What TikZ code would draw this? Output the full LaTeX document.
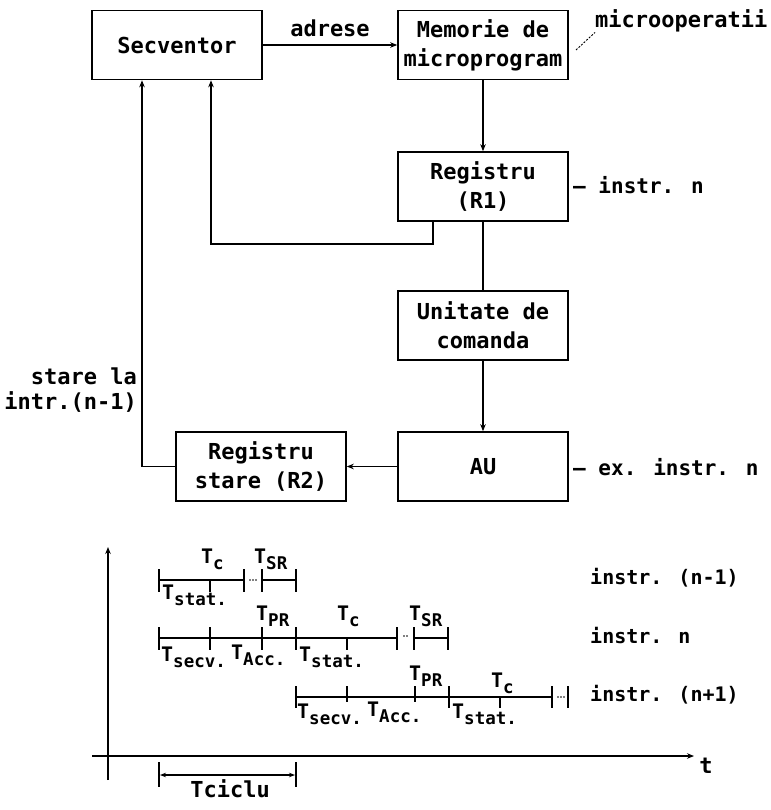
\documentclass[tikz,border=0pt]{standalone}
\usepackage{fontspec}
\newfontfamily\dmono{DejaVu Sans Mono}
\usetikzlibrary{arrows.meta}
% time label: T with a lowered index
\newcommand\Tlab[1]{{\fontsize{20}{20}\selectfont T\raisebox{-6pt}{\fontsize{17.5}{17.5}\selectfont #1}}}
\begin{document}
\begin{tikzpicture}[x=1pt,y=-1pt,
  every node/.style={font=\dmono\bfseries\fontsize{22}{29}\selectfont, inner sep=0pt},
  blk/.style={draw, line width=1.6pt, align=center, minimum width=170pt, minimum height=69pt},
  wire/.style={line width=1.1pt},
  arr/.style={wire, -{Stealth[length=7pt,width=5.5pt]}},
  lead/.style={line width=0.9pt, dash pattern=on 2pt off 1.5pt},
  side/.style={anchor=west, font=\dmono\bfseries\fontsize{21}{25}\selectfont},
  row/.style={anchor=west, font=\dmono\bfseries\fontsize{20}{24}\selectfont},
  tlab/.style={anchor=base west},
  seg/.style={line width=1.3pt},
  segb/.style={line width=2.5pt},
  tk/.style={line width=1.2pt},
  dt/.style={fill, inner sep=0pt, minimum size=1.8pt, circle}
]
\useasboundingbox (0,0) rectangle (770,810);

% ---------- block diagram ----------
\node[blk] (sec) at (177,45) {Secventor};
\node[blk] (mem) at (483,45) {Memorie de\\microprogram};
\node[blk] (r1)  at (483,186.5) {Registru\\(R1)};
\node[blk] (uc)  at (483,325.5) {Unitate de\\comanda};
\node[blk] (r2)  at (261,466.5) {Registru\\stare (R2)};
\node[blk] (au)  at (483,466.5) {AU};

\draw[arr] (sec.east) -- node[midway, yshift=17pt] (adr) {adrese} (mem.west);
\draw[arr] (mem.south) -- (r1.north);
\draw[wire] (r1.south) -- (uc.north);
\draw[arr] (uc.south) -- (au.north);
\draw[arr] (au.west) -- (r2.east);

% feedback of the current instruction
\coordinate (fbA) at (433,244);
\coordinate (fbB) at (211,244);
\draw[arr, line width=1.5pt] (r1.south -| fbA) |- (fbB) -- (sec.south -| fbB);
% state of the previous instruction
\coordinate (stB) at (142,467);
\draw[arr] (r2.west) -| (sec.south -| stB);

\node[anchor=east, align=right, font=\dmono\bfseries\fontsize{22}{25}\selectfont] (stl) at (137,390) {stare la\\intr.(n-1)};

\node[anchor=west] (mo) at (595,21) {microoperatii};
\coordinate (moA) at (576,50);
\draw[lead] (moA) -- (mo.south west);

\node[side] (i1) at (573,185) {— instr. n};
\node[side] (i2) at (573,467) {— ex. instr. n};

% ---------- timing chart ----------
\draw[wire, -{Stealth[length=7pt,width=5.5pt]}] (108,780) -- (108,547);
\draw[wire, -{Stealth[length=7pt,width=5.5pt]}] (92,756) -- (694,756);
\node (t) at (706,766) {t};

% instruction n-1
\draw[seg] (159,580) -- (244,580);
\draw[seg] (262,580) -- (296,580);
\foreach \x in {159,244,262,296} \draw[tk] (\x,569) -- (\x,592);
\draw[tk] (210,580) -- (210,592);
\foreach \x in {250,253,256} \node[dt] at (\x,580) {};
\node[tlab] at (201,563) {\Tlab{c}};
\node[tlab] at (254,563) {\Tlab{SR}};
\node[tlab] at (162,599) {\Tlab{stat.}};
\node[row] (rn1) at (590,578) {instr. (n-1)};

% instruction n
\draw[segb] (159,638) -- (397,638);
\draw[segb] (414,638) -- (448,638);
\foreach \x in {159,210,262,296,397,414,448} \draw[tk] (\x,627) -- (\x,650);
\draw[tk] (347,638) -- (347,650);
\foreach \x in {404,407} \node[dt] at (\x,636) {};
\node[tlab] at (256,620) {\Tlab{PR}};
\node[tlab] at (337,620) {\Tlab{c}};
\node[tlab] at (409,620) {\Tlab{SR}};
\node[tlab] at (161,661) {\Tlab{secv.}};
\node[tlab] at (231,659) {\Tlab{Acc.}};
\node[tlab] at (299,661) {\Tlab{stat.}};
\node[row] (rn) at (590,636) {instr. n};

% instruction n+1
\draw[seg] (296,697) -- (552,697);
\foreach \x in {296,449,552,568} \draw[tk] (\x,686) -- (\x,708);
\foreach \x in {347,415} \draw[tk] (\x,686) -- (\x,702);
\draw[tk] (500,697) -- (500,708);
\foreach \x in {558,561,564} \node[dt] at (\x,697) {};
\node[tlab] at (409,680) {\Tlab{PR}};
\node[tlab] at (491,687) {\Tlab{c}};
\node[tlab] at (297,718) {\Tlab{secv.}};
\node[tlab] at (367,716) {\Tlab{Acc.}};
\node[tlab] at (452,718) {\Tlab{stat.}};
\node[row] (rp1) at (590,695) {instr. (n+1)};

% cycle time
\draw[tk] (159,762) -- (159,787);
\draw[tk] (296,762) -- (296,787);
\draw[wire, {Stealth[length=6pt,width=4.5pt]}-{Stealth[length=6pt,width=4.5pt]}] (160,775) -- node[pos=0.52, yshift=-14pt] (tc) {Tciclu} (295,775);
\end{tikzpicture}
\end{document}
